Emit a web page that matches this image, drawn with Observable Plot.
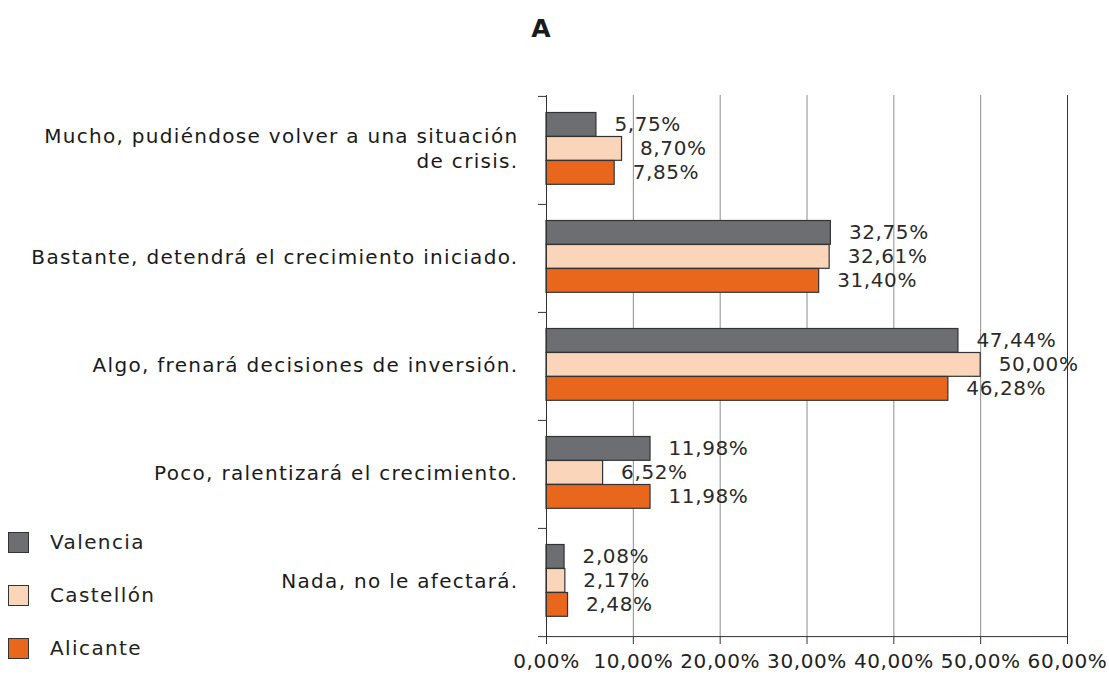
<!DOCTYPE html>
<html>
<head>
<meta charset="utf-8">
<script src="https://cdn.jsdelivr.net/npm/d3@7"></script>
<script src="https://cdn.jsdelivr.net/npm/@observablehq/plot@0.6"></script>
<style>
  body { margin: 0; background: #fff; font-family: "DejaVu Sans", sans-serif; }
  #wrap { position: relative; width: 1109px; height: 675px; overflow: hidden; }
  #chart { position: absolute; left: 0; top: 0; }
  #title { position: absolute; left: 0; width: 1082px; top: 14px; text-align: center; font-weight: bold; font-size: 25px; color: #1a1a1a; }
  .leg { position: absolute; left: 8px; display: flex; align-items: center; font-size: 20px; color: #222; letter-spacing: 1.4px; }
  .sw { width: 21px; height: 21px; border: 1px solid #333; box-sizing: border-box; margin-right: 21px; }
  #chart g[aria-label="y-axis tick label"] { letter-spacing: 1.3px; }
  #chart g[aria-label="x-axis tick label"] { letter-spacing: 0.6px; }
  #chart g[aria-label="text"] { letter-spacing: 0.6px; }
</style>
</head>
<body>
<div id="wrap">
  <div id="chart"></div>
  <div id="title">A</div>
  <div id="legend"></div>
</div>
<script>
const categories = [
  "Mucho, pudiéndose volver a una situación\nde crisis.",
  "Bastante, detendrá el crecimiento iniciado.",
  "Algo, frenará decisiones de inversión.",
  "Poco, ralentizará el crecimiento.",
  "Nada, no le afectará."
];
const series = ["Valencia", "Castellón", "Alicante"];
const valencia  = [5.75, 32.75, 47.44, 11.98, 2.08];
const castellon = [8.70, 32.61, 50.00, 6.52, 2.17];
const alicante  = [7.85, 31.40, 46.28, 11.98, 2.48];
const xTicks = [0, 10, 20, 30, 40, 50, 60];
const colors = ["#6d6e71", "#fbd5b9", "#e8671c"];

const seriesValues = [valencia, castellon, alicante];
const rows = series.flatMap((s, si) => categories.map((c, ci) => ({category: c, series: s, value: seriesValues[si][ci]})));

const W = 1109, H = 675, mL = 546, mR = 42, mT = 95, mB = 39;
const bw = (H - mT - mB) / categories.length;
const barH = 24;
const padTop = 16.5;
const fmt = v => v.toFixed(2).replace(".", ",") + "%";

const barMarks = series.flatMap((s, i) => [
  Plot.barX(rows.filter(d => d.series === s), {
    x: "value", y: "category", fill: colors[i], stroke: "#333", strokeWidth: 1.2,
    insetTop: padTop + i * barH, insetBottom: bw - padTop - (i + 1) * barH
  }),
  Plot.text(rows.filter(d => d.series === s), {
    x: "value", y: "category", text: d => fmt(d.value),
    dy: padTop + (i + 0.5) * barH - bw / 2, dx: 18,
    textAnchor: "start", fontSize: 20, fill: "#2a2a2a"
  })
]);

const plot = Plot.plot({
  width: W, height: H,
  marginLeft: mL, marginRight: mR, marginTop: mT, marginBottom: mB,
  style: {fontFamily: "DejaVu Sans", fontSize: "20px", color: "#222", background: "transparent"},
  x: {domain: [0, 60], ticks: xTicks, tickFormat: fmt},
  y: {domain: categories, padding: 0},
  marks: [
    Plot.gridX(xTicks.filter(d => d > 0 && d < 60), {stroke: "#8c8c8c", strokeOpacity: 1}),
    Plot.ruleX([60], {stroke: "#333"}),
    ...barMarks,
    Plot.ruleX([0], {stroke: "#333"}),
    Plot.ruleY(categories, {y: d => d, dy: -bw / 2, insetLeft: -8, insetRight: W - mL - mR, stroke: "#333"}),
    Plot.ruleY(categories.slice(-1), {y: d => d, dy: bw / 2, insetLeft: -8, stroke: "#333"}),
    Plot.axisX(xTicks, {tickSize: 8, tickPadding: 9, stroke: "#333", fontSize: 20, fill: "#222", label: null, tickFormat: fmt}),
    Plot.axisY({tickSize: 0, tickPadding: 28, dy: -3, fontSize: 20, fill: "#1a1a1a", label: null, lineHeight: 1.25})
  ]
});
document.getElementById("chart").appendChild(plot);

const legend = document.getElementById("legend");
const legTops = [531, 584, 637];
series.forEach((s, i) => {
  const el = document.createElement("div");
  el.className = "leg";
  el.style.top = (legTops[i] - 1) + "px";
  el.innerHTML = `<div class="sw" style="background:${colors[i]}"></div><span>${s}</span>`;
  legend.appendChild(el);
});
</script>
</body>
</html>
